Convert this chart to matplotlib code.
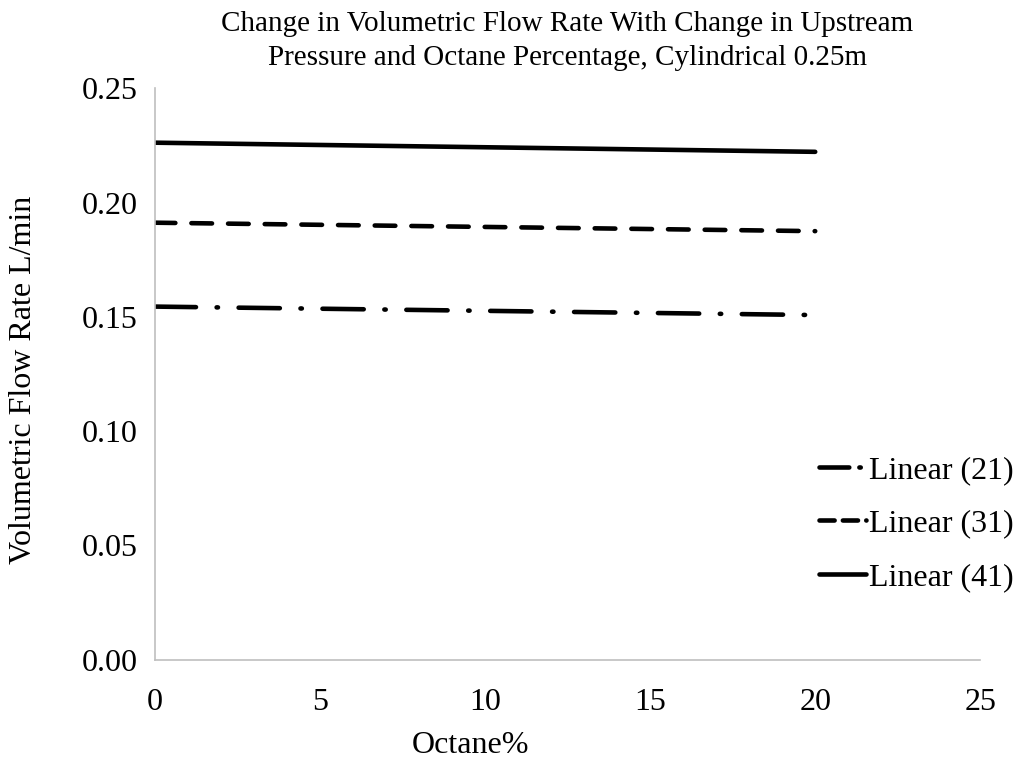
import matplotlib
matplotlib.use("Agg")
import matplotlib.pyplot as plt
from matplotlib.lines import Line2D

# Octane percentage (x) and linear trend values for each upstream pressure
OCTANE = [0, 20]
LINEAR_21 = [0.1545, 0.1508]
LINEAR_31 = [0.1912, 0.1875]
LINEAR_41 = [0.2262, 0.2222]

LABELS = ["Linear (21)", "Linear (31)", "Linear (41)"]
Y_TICKS = [0.0, 0.05, 0.10, 0.15, 0.20, 0.25]
X_TICKS = [0, 5, 10, 15, 20, 25]

plt.rcParams["font.family"] = ["Liberation Serif", "DejaVu Serif"]

fig = plt.figure(figsize=(10.18, 7.61), dpi=100)
ax = fig.add_axes([0.152, 0.133, 0.811, 0.751])

lw = 3.3
ax.plot(OCTANE, LINEAR_21, color="black", lw=lw,
		dashes=(9, 4.5, 0.3, 4.5), dash_capstyle="round", solid_capstyle="round")
ax.plot(OCTANE, LINEAR_31, color="black", lw=lw,
		dashes=(4.5, 3.5), dash_capstyle="round", solid_capstyle="round")
ax.plot(OCTANE, LINEAR_41, color="black", lw=lw, solid_capstyle="round")

ax.set_xlim(0, 25)
ax.set_ylim(0, 0.25)
ax.set_xticks(X_TICKS)
ax.set_yticks(Y_TICKS)
ax.set_yticklabels([f"{v:.2f}" for v in Y_TICKS])
ax.tick_params(length=0, labelsize=23)
ax.tick_params(axis="y", pad=12)
ax.tick_params(axis="x", pad=20)

for side in ["top", "right"]:
	ax.spines[side].set_visible(False)
for side in ["left", "bottom"]:
	ax.spines[side].set_color("#bfbfbf")
	ax.spines[side].set_linewidth(1.2)

ax.set_xlabel("Octane%", fontsize=23)
ax.xaxis.set_label_coords(0.382, -0.125)
ax.set_ylabel("Volumetric Flow Rate L/min", fontsize=23)
ax.yaxis.set_label_coords(-0.142, 0.49)
ax.set_title("Change in Volumetric Flow Rate With Change in Upstream\n"
			 "Pressure and Octane Percentage, Cylindrical 0.25m",
			 fontsize=21, pad=17, linespacing=1.4)

# legend handles use shorter dash patterns so they fit the short legend line
handles = [
	Line2D([], [], color="black", lw=lw, dashes=(6.5, 2.2, 0.3, 2.2),
		   dash_capstyle="round"),
	Line2D([], [], color="black", lw=lw, dashes=(3.3, 1.8),
		   dash_capstyle="round"),
	Line2D([], [], color="black", lw=lw, solid_capstyle="round"),
]
ax.legend(handles, LABELS, loc="center left", bbox_to_anchor=(0.805, 0.238),
		  frameon=False, fontsize=23, handlelength=1.45, handletextpad=0.1,
		  labelspacing=0.75, borderaxespad=0, borderpad=0)

fig.savefig("out.png", dpi=100)
